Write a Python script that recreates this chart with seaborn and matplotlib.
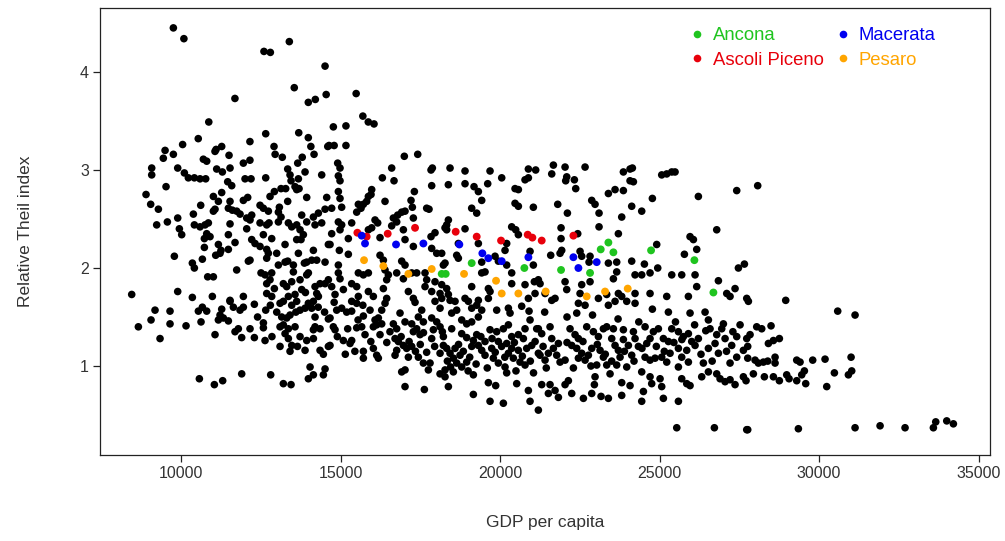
import matplotlib
matplotlib.use("Agg")
import matplotlib.pyplot as plt
import seaborn as sns
import pandas as pd
from matplotlib.lines import Line2D

# ---- black points (GDP per capita, Relative Theil index), read block by block ----
pts_top = [(9760,4.45),(10090,4.34),(13395,4.31),(12600,4.21),(12800,4.20),(14515,4.06),(13550,3.84),(11690,3.73),(13990,3.69),(14210,3.72),(14550,3.77),(10870,3.49),(12655,3.37),(13690,3.38),(13990,3.33),(12160,3.29),(10540,3.32),(10050,3.26),(12915,3.24),(14070,3.24),(14600,3.24),(9500,3.20),(9760,3.16),(11100,3.21),(11065,3.19),(11275,3.24),(11505,3.15),(12950,3.16),(13175,3.13),(13800,3.13),(14170,3.16),(9445,3.12),(10700,3.11),(12160,3.10),
 (15490,3.78),(15700,3.55),(15870,3.49),(16050,3.47),(14775,3.44),(15170,3.45),(14640,3.25),(14800,3.25),(15170,3.25),(17000,3.14),(17420,3.16)]

pts_left_mid = [(10805,3.09),(11954,3.07),
 (9081,3.02),(9081,2.95),(9896,3.02),(10105,2.97),(10230,2.92),(10418,2.92),(10596,2.91),(10773,2.91),(11118,3.01),(11296,2.98),(11536,3.02),(11463,2.88),(11589,2.84),(12007,2.91),(12195,2.91),(12655,2.92),(13344,3.01),(13417,2.95),(13449,2.89),(13658,3.07),(13888,2.98),(13679,2.91),(13574,2.83),(13700,2.81),(14410,2.95),
 (8903,2.75),(9049,2.65),(9290,2.60),(9530,2.83),(10617,2.64),(11014,2.73),(11275,2.77),(11171,2.68),(11066,2.60),(11014,2.58),(11536,2.68),(11484,2.61),(11609,2.59),(11745,2.58),(11850,2.55),(11954,2.69),(12090,2.72),(12477,2.64),(12581,2.61),(12738,2.58),(12790,2.73),(12926,2.78),(13135,2.81),(13281,2.81),(13344,2.68),(13083,2.62),(13052,2.57),(13135,2.52),(13052,2.47),(13626,2.80),(13940,2.72),(14567,2.72),(14515,2.60),
 (9237,2.44),(9572,2.47),(9896,2.51),(9948,2.40),(10021,2.34),(10387,2.55),(10418,2.44),(10596,2.42),(10753,2.44),(10857,2.46),(10805,2.35),(10732,2.30),(10909,2.32),(11536,2.45),(11484,2.34),(12059,2.51),(12163,2.49),(12216,2.54),(12059,2.40),(12477,2.46),(12686,2.44),(12759,2.46),(12216,2.29),(12320,2.25),(12477,2.22),(12581,2.34),(12843,2.30),(13365,2.46),(13470,2.42),(13626,2.44),(13783,2.54),(13731,2.39),(13835,2.34),(13940,2.47),(14149,2.52),(14201,2.44),(14410,2.46),(14306,2.56),
 (9791,2.12),(10355,2.05),(10418,2.00),(10669,2.09),(10732,2.21),(11171,2.24),(11254,2.18),(11087,2.13),(11223,2.15),(11484,2.19),(11693,2.26),(11745,1.98),(12111,2.07),(12163,2.08),(12686,2.19),(12738,2.15),(12686,2.10),(12999,2.15),(13052,2.03),(13261,2.06),(13344,2.07),(13522,2.03),(13261,2.24),(13679,2.15),(13626,2.29),(13762,2.29),(13867,2.05),(13940,2.06),(14097,2.08),(14254,2.08),(14149,2.18),(14515,2.06),(14619,2.24),
 (8454,1.73),(9896,1.76),(10355,1.70),(10836,1.91),(11014,1.91),(11536,1.67),(10982,1.71),(12508,1.95),(12634,1.93),(12843,1.95),(12686,1.84),(12790,1.88),(12686,1.74),(12843,1.71),(12926,1.79),(13208,1.84),(13313,1.81),(13470,1.86),(13522,1.96),(13731,1.88),(13783,1.78),(13940,1.93),(13992,1.95),(14201,1.81),(14358,1.84),(14515,1.84),(14619,1.88),(14254,1.74),(14306,1.71),(13365,1.71),(13574,1.73),(11954,1.71)]

pts_centre_mid = [(14911,3.07),(14984,3.02),(14932,2.94),(14984,2.89),(16604,3.02),(16311,2.92),(16677,2.89),(17879,3.02),(17837,3.00),(18433,3.02),(17858,2.84),(18380,2.85),(18903,2.99),(18903,2.86),(19185,2.83),(19614,2.86),(19687,2.99),(20053,2.92),(20889,3.01),(21118,3.00),(20784,2.90),(20889,2.92),(20471,2.81),(20575,2.80),
 (14932,2.78),(14984,2.71),(14723,2.61),(15036,2.62),(15559,2.65),(15716,2.65),(15643,2.61),(15820,2.68),(15873,2.73),(15977,2.80),(15956,2.75),(15507,2.57),(16395,2.68),(16656,2.51),(16792,2.54),(16918,2.57),(17022,2.58),(17210,2.69),(17252,2.62),(17315,2.78),(17701,2.61),(17774,2.60),(17283,2.51),(16761,2.47),(16604,2.43),(18381,2.49),(18328,2.44),(18328,2.39),(19112,2.61),(19269,2.56),(19321,2.78),(19426,2.69),(20471,2.66),(20575,2.63),(21045,2.62),
 (14932,2.47),(15036,2.44),(14984,2.39),(15350,2.46),(16082,2.49),(16165,2.46),(15873,2.39),(15977,2.41),(14723,2.35),(15245,2.30),(14671,2.24),(14963,2.18),(15245,2.14),(16238,2.31),(16970,2.39),(17022,2.29),(17283,2.22),(17837,2.32),(17962,2.36),(18276,2.41),(18903,2.40),(17858,2.20),(18015,2.15),(18172,2.15),(18694,2.25),(18642,2.13),(18694,2.10),(19321,2.25),(19426,2.06),(20209,2.25),(20157,2.18),(19844,2.12),(19948,2.07),(20366,2.42),(20492,2.39),(20575,2.34),(20941,2.17),(21045,2.03),
 (14932,2.03),(14932,1.95),(15559,1.95),(15716,1.93),(15873,1.95),(16238,2.13),(16343,2.08),(16395,1.98),(16500,1.93),(16447,1.88),(16918,2.07),(17022,2.03),(16761,1.95),(16970,1.89),(17231,1.95),(17388,1.95),(17649,1.95),(17701,1.88),(17962,1.86),(18224,2.03),(18276,2.05),(18172,1.83),(18328,1.79),(18120,1.74),(19112,1.81),(19426,1.95),(19530,1.96),(19635,1.79),(19687,1.76),(20209,2.03),(20366,1.95),(20366,1.84),(21076,1.86),(21202,1.88),
 (14723,1.81),(14984,1.89),(14828,1.73),(15089,1.78),(15350,1.84),(15507,1.81),(15559,1.71),(15873,1.76),(16029,1.71),(16343,1.79),(16447,1.69),(17127,1.76),(17283,1.69),(17649,1.81),(17858,1.76),(18172,1.69),(18381,1.73),(18903,1.69),(19635,1.69),(20784,1.83),(20889,1.69),(21098,1.74)]

pts_right_mid = [(21673,3.05),(22039,3.03),(22666,3.03),(21621,2.96),(22091,2.93),(22059,2.89),(22331,2.90),(22373,2.81),(23867,2.98),(24076,3.01),(24149,3.02),(24076,2.89),(24181,2.88),(25069,2.95),(25226,2.96),(25383,2.98),(25487,2.98),(23397,2.76),(23606,2.80),(23867,2.79),(24776,2.71),(26218,2.73),(27420,2.79),(21809,2.65),(22875,2.69),(22979,2.65),(22112,2.56),(24128,2.63),(24442,2.58),(23104,2.56),(23104,2.42),(23815,2.52),(23710,2.35),
 (21913,2.41),(21913,2.30),(21934,2.18),(21882,2.15),(21589,2.13),(22436,2.35),(22509,2.17),(22561,2.12),(22822,2.12),(22791,2.06),(23397,2.05),(23658,2.06),(23658,1.96),(23554,1.89),(24128,2.07),(24526,2.04),(24703,1.95),(24944,2.00),(24233,1.93),(24442,1.93),(24912,2.24),(25957,2.32),(26166,2.19),(25780,2.14),(26793,2.39),(26062,2.29),(25383,1.93),(25696,1.93),(26114,1.93),(26166,1.81),(26846,1.87),(27368,1.79),(27473,2.00),(27661,2.04),
 (21255,1.84),(21412,1.74),(22039,1.86),(22091,1.78),(21725,1.69),(22561,1.83),(22509,1.74),(22822,1.86),(23084,1.69),(23345,1.73),(23710,1.74),(23815,1.71),(24233,1.74),(24703,1.74),(25226,1.71),(25905,1.71),(27107,1.74),(27211,1.71),(27734,1.69),
 (28078,2.84)]

pts_left_low = [(9185,1.57),(9655,1.56),(9060,1.47),(8663,1.40),(9342,1.28),(9655,1.43),(10157,1.41),(10544,1.56),(10669,1.60),(10805,1.56),(10627,1.45),(11536,1.66),(11275,1.58),(11223,1.52),(11327,1.49),(11171,1.47),(11484,1.46),(11641,1.60),(11850,1.57),(11954,1.60),(11693,1.35),(11797,1.38),(11066,1.32),(11902,1.29),(12299,1.63),(12163,1.38),(12299,1.29),(12582,1.44),(12582,1.39),(12655,1.57),(12634,1.26),(13104,1.64),(13208,1.66),
 (13156,1.50),(13313,1.49),(13417,1.52),(13208,1.42),(13104,1.40),(13365,1.38),(13574,1.40),(13261,1.33),(13365,1.28),(13470,1.62),(13626,1.66),(13731,1.57),(13888,1.59),(13992,1.64),(14097,1.59),(14149,1.66),(14201,1.50),(14201,1.40),(14358,1.38),(14149,1.37),(14619,1.48),(13731,1.30),(13940,1.26),(13104,1.20),(13417,1.15),(13470,1.21),(13888,1.16),(14358,1.16),(14462,1.12),(14619,1.20),
 (14045,0.99),(14515,0.97),(13992,0.87),(14149,0.91),(14462,0.91),(10575,0.87),(11045,0.81),(11306,0.85),(11902,0.92),(12811,0.91),(13208,0.82),(13449,0.81)]

pts_centre_low = [(15350,1.66),(15507,1.64),(16395,1.64),(17336,1.65),(17962,1.66),(18433,1.67),(18590,1.66),(19008,1.66),(19321,1.67),
 (14880,1.57),(15036,1.59),(15193,1.55),(15350,1.56),(14671,1.49),(14775,1.40),(14828,1.37),(15225,1.38),(15507,1.39),(15664,1.40),(15716,1.51),(15925,1.57),(16082,1.47),(16186,1.49),(16291,1.57),(16029,1.40),(16134,1.42),(16291,1.43),(15768,1.32),(16238,1.32),(15089,1.26),(15298,1.23),(15350,1.26),(14671,1.21),(15716,1.15),(15716,1.08),(16029,1.18),(16134,1.11),(16186,1.08),
 (16709,1.11),(16761,1.16),(16709,1.28),(16813,1.25),(16970,1.21),(17074,1.18),(17231,1.20),(16865,1.54),(17022,1.45),(17231,1.43),(17388,1.38),(17283,1.35),(17492,1.32),(16761,1.38),(16656,1.43),(17545,1.57),(17440,1.50),(17597,1.45),(17858,1.49),(18015,1.45),(17910,1.37),(18120,1.40),(18192,1.35),(18224,1.30),(17858,1.28),(17127,1.09),(17440,1.09),(17597,1.03),(17806,1.03),(16918,0.94),(17022,0.96),(17754,0.96),
 (18120,1.13),(18224,1.21),(18328,1.18),(18433,1.13),(18537,1.08),(18642,1.03),(18799,0.99),(18955,1.04),(18746,1.11),(18590,1.18),(18120,0.92),(18276,0.96),(18276,0.89),(18537,0.94),(18120,1.59),(18485,1.54),(18642,1.57),(18485,1.38),(18799,1.33),(18955,1.29),(19164,1.26),(19269,1.32),(19112,1.20),(19112,1.59),(19269,1.62),(19426,1.57),(19321,1.50),(18799,1.47),(18955,1.43),(19112,1.45),
 (19321,1.21),(19426,1.16),(19530,1.11),(19739,1.18),(19530,1.25),(19687,1.37),(19896,1.35),(20105,1.38),(20262,1.42),(19791,1.08),(19948,1.03),(20157,0.99),(20209,0.93),(20262,1.13),(20366,1.18),(20575,1.16),(20836,1.18),(20993,1.21),(21202,1.13),(19896,1.57),(20262,1.59),(20314,1.54),(20679,1.61),(20910,1.56),(20941,1.47),(20784,1.38),(21150,1.38),(19948,1.25),(20209,1.23),(20366,1.30),(20575,1.32),(20732,1.28),(20418,1.08),(20627,1.04),(20784,1.01),
 (19635,0.83),(19864,0.80),(19687,0.64),(20105,0.62),(19164,0.91),(19164,0.71),(20523,0.82),(20889,0.75),(20941,0.64),(21202,0.55),(17022,0.79),(17628,0.76),(18381,0.79)]

pts_right_low = [(21621,1.67),(22457,1.64),(22405,1.54),(22666,1.62),(23397,1.62),(23606,1.66),(23972,1.66),(24233,1.64),(24776,1.58),(25278,1.55),(25957,1.54),(26428,1.55),(26532,1.47),(26584,1.38),(27786,1.66),
 (21202,1.38),(21307,1.33),(21568,1.40),(21621,1.28),(21255,1.11),(21412,1.06),(21516,1.13),(21673,1.18),(21830,1.23),(21777,1.11),(21882,1.04),(22039,1.06),
 (22195,1.38),(22352,1.32),(22457,1.28),(22248,1.21),(22405,1.18),(22561,1.13),(22457,1.08),(22666,1.06),(22770,1.11),(22875,1.18),(22718,1.40),(22927,1.35),(23084,1.30),(23240,1.38),(23345,1.40),(23554,1.38),(23136,1.16),(23240,1.09),(23345,1.01),(23031,1.01),
 (23502,1.28),(23606,1.21),(23710,1.16),(23763,1.09),(23658,1.01),(23867,1.27),(24024,1.21),(23867,1.37),(24181,1.35),(24233,1.28),(24338,1.20),(24128,1.11),(23972,0.99),
 (24547,1.40),(24703,1.28),(24808,1.35),(24964,1.38),(25121,1.28),(25278,1.25),(25383,1.38),(24547,1.09),(24703,1.06),(24860,1.08),(25069,1.09),(25330,1.13),(25226,1.04),(24442,0.94),(24703,0.89),(25017,0.87),(24755,0.82),(25069,0.79),
 (25592,1.35),(25748,1.30),(25905,1.33),(26009,1.25),(26218,1.28),(26114,1.21),(25853,1.16),(25592,1.18),(25696,1.09),(25905,1.04),(25592,0.99),(25696,0.87),(25853,0.82),(25957,0.80),
 (26375,1.03),(26323,0.89),(26532,0.94),(26793,0.92),(26898,0.87),(27055,0.84),(27211,0.86),(27368,0.81),(27629,0.89),
 (26532,1.18),(26741,1.23),(26793,1.32),(26950,1.38),(26846,1.13),(27055,1.28),(27263,1.21),(27420,1.30),(27525,1.42),(27629,1.16),(27734,1.28),(27420,1.09),(27211,1.03),(27002,1.43),
 (21307,0.81),(21568,0.81),(21725,0.75),(22039,0.81),(22143,0.85),(21516,0.72),(21830,0.68),(22248,0.72),(22614,0.67),(22875,0.72),(22979,0.89),(22958,0.81),(23167,0.69),(23397,0.67),(23449,0.92),(23815,0.70),(23815,0.83),(24076,0.80),(24495,0.74),(24442,0.64),(25121,0.67),(25592,0.64),(25540,0.37),(26720,0.37),(27734,0.35)]

pts_far_right = [(28956,1.67),(30586,1.56),(31130,1.52),(27838,1.32),(27765,1.20),(28047,1.40),(28204,1.38),(28496,1.41),(28413,1.23),(28570,1.26),(28757,1.28),(27765,1.08),(27995,1.06),(28099,1.03),(28256,1.04),(28392,1.05),(28622,1.09),(28622,1.03),(29301,1.06),(29405,1.04),(29802,1.06),(30189,1.07),(31005,1.09),(27712,0.85),(27942,0.92),(28287,0.89),(28570,0.89),(28757,0.85),(28987,0.91),(29061,0.87),(29301,0.85),(29458,0.91),(29541,0.95),(29583,0.82),(30242,0.79),(30482,0.93),(30921,0.91),(31025,0.95),(27765,0.35),(29353,0.36),(31130,0.37),(31914,0.39),(32697,0.37),(33585,0.37),(33659,0.43),(34004,0.44),(34212,0.41)]

# extra points in the densest part of the cloud (estimated)
pts_dense_band = [(16900,1.30),(17150,1.25),(17350,1.15),(17500,1.22),(17700,1.14),(17950,1.20),(17600,1.34),(16450,1.24),(16550,1.35),(15950,1.25),(15450,1.15),(15150,1.12),(14900,1.30),(15550,1.47),
 (18350,1.05),(18700,1.22),(18850,1.15),(19050,1.09),(19250,1.02),(19000,0.95),(18450,0.99),(19600,0.98),(19850,1.14),(20050,1.20),(20150,1.09),(20450,1.24),(20700,1.10),(20950,1.05),(21100,1.25),(21350,1.20),(21450,0.98),(21050,0.93),(20500,0.95),(19400,1.30),(19750,1.28),
 (22100,1.24),(22300,0.98),(22600,1.25),(22850,1.00),(23050,1.22),(23300,1.12),(23500,1.05),(23900,1.15),(24200,1.05),(24450,1.18),(24600,1.23),(24900,1.20),(25150,1.15),(25450,1.24),(25700,1.27),(26300,1.12),(26450,1.36),(26650,1.05),(27100,1.15),(27300,1.35),(24350,1.45),(23700,1.48),(22900,1.52),(22100,1.50),(21400,1.55),(25500,1.45),(26100,1.42),
 (13900,1.75),(14300,1.60),(14500,1.55),(13600,1.55),(13000,1.55),(12800,1.62),(12400,1.50),(12850,1.30),(13650,1.20),(14150,1.28),(14800,1.65),(15700,1.62)]

# ---- highlighted provinces ----
ancona = [(19112,2.05),(18172,1.94),(18297,1.94),(20763,2.00),(23397,2.26),(23157,2.19),(23554,2.16),(24735,2.18),(26093,2.08),(21913,1.98),(22822,1.95),(26689,1.75)]
ascoli_piceno = [(15528,2.36),(15820,2.32),(16479,2.35),(17336,2.41),(18610,2.37),(19269,2.32),(20032,2.28),(20868,2.34),(21014,2.31),(21307,2.28),(22300,2.33)]
macerata = [(15664,2.33),(15768,2.25),(16740,2.24),(17597,2.25),(18725,2.24),(19446,2.15),(19634,2.10),(20053,2.07),(20889,2.11),(22300,2.11),(22457,2.00),(23031,2.06)]
pesaro = [(15737,2.08),(16343,2.02),(17127,1.94),(17858,1.99),(18872,1.94),(19875,1.87),(20053,1.74),(20575,1.74),(21432,1.76),(22718,1.71),(23293,1.76),(24003,1.79)]

provinces = ["Ancona", "Ascoli Piceno", "Macerata", "Pesaro"]
prov_colors = {"Ancona": "#1FC41F", "Ascoli Piceno": "#E8000B", "Macerata": "#0000F0", "Pesaro": "#FFA500"}
x_ticks = [10000, 15000, 20000, 25000, 30000, 35000]
y_ticks = [1, 2, 3, 4]

others = (pts_top + pts_left_mid + pts_centre_mid + pts_right_mid + pts_left_low
          + pts_centre_low + pts_right_low + pts_far_right + pts_dense_band)
df_other = pd.DataFrame(others, columns=["gdp", "theil"])
frames = []
for name, pts in zip(provinces, [ancona, ascoli_piceno, macerata, pesaro]):
    d = pd.DataFrame(pts, columns=["gdp", "theil"])
    d["province"] = name
    frames.append(d)
df_prov = pd.concat(frames, ignore_index=True)

sns.set_style("white")
plt.rcParams["font.family"] = ["Liberation Sans", "DejaVu Sans"]

fig = plt.figure(figsize=(10.05, 5.41), dpi=100)
ax = fig.add_axes([100/1005, 1-455/541, 890/1005, 447/541])

sns.scatterplot(data=df_other, x="gdp", y="theil", color="black", s=30,
                linewidth=0, edgecolor="none", ax=ax, legend=False)
sns.scatterplot(data=df_prov, x="gdp", y="theil", hue="province", hue_order=provinces,
                palette=prov_colors, s=32, linewidth=0, edgecolor="none", ax=ax, legend=False)

ax.set_xlim(7460, 35360)
ax.set_ylim(0.092, 4.653)
ax.set_xticks(x_ticks)
ax.set_xticklabels([str(v) for v in x_ticks])
ax.set_yticks(y_ticks)
ax.set_yticklabels([str(v) for v in y_ticks])
ax.tick_params(axis="both", direction="out", length=5, width=0.9, labelsize=11.5,
               colors="#222222", labelcolor="#333333", pad=3, bottom=True, left=True)
for sp in ax.spines.values():
    sp.set_color("#222222")
    sp.set_linewidth(0.9)

ax.set_xlabel("GDP per capita", fontsize=12.5, color="#333333")
ax.set_ylabel("Relative Theil index", fontsize=12.5, color="#333333")
ax.xaxis.set_label_coords(0.5, -0.135)
ax.yaxis.set_label_coords(-0.075, 0.5)

handles = [Line2D([0], [0], marker="o", linestyle="none", markersize=5.5,
                  markerfacecolor=prov_colors[p], markeredgecolor="none") for p in provinces]
leg = ax.legend(handles, provinces, ncol=2, frameon=False, loc="upper left",
                bbox_to_anchor=(689.6/1005, 1-27/541), bbox_transform=fig.transFigure,
                fontsize=13.3, handlelength=0.8, handletextpad=0.45, columnspacing=0.65,
                labelspacing=0.42, borderpad=0, borderaxespad=0)
for t, p in zip(leg.get_texts(), provinces):
    t.set_color(prov_colors[p])

fig.savefig("out.png", dpi=100)
